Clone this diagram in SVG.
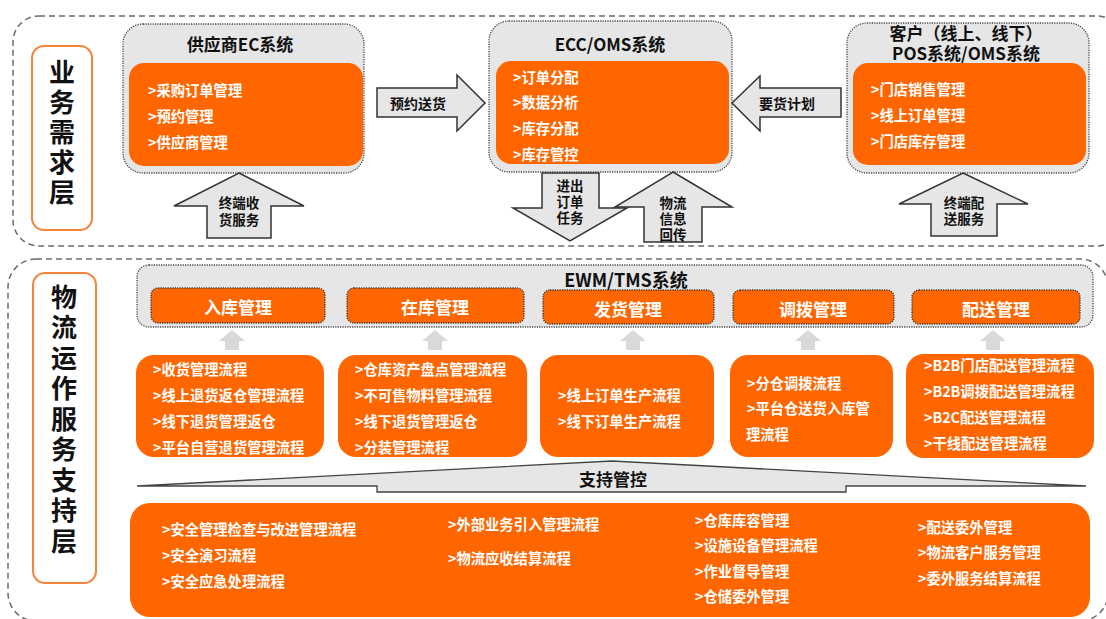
<svg xmlns="http://www.w3.org/2000/svg" width="1106" height="619" viewBox="0 0 1106 619">
<style>
text{font-family:"Noto Sans CJK SC","Noto Sans",sans-serif;font-weight:bold;dominant-baseline:central}
.zone{fill:none;stroke:#6b6b6b;stroke-width:1.5;stroke-dasharray:6 4}
.layer{fill:#fff;stroke:#f6843a;stroke-width:2}
.layer-t{font-size:26px;fill:#111;text-anchor:middle;writing-mode:vertical-rl;dominant-baseline:auto}
.sys{fill:#e6e6e6;stroke:#444;stroke-width:1.3;stroke-dasharray:1.2 1.2}
.org{fill:#ff6600}
.mgmt{fill:#ff6600;stroke:#333;stroke-width:1.3;stroke-dasharray:1.2 1.2}
.title{font-size:17px;fill:#111;text-anchor:middle}
.item{font-size:14.3px;fill:#fff}
.mg-t{font-size:17px;fill:#fff;text-anchor:middle}
.blk{fill:#e6e6e6;stroke:#333;stroke-width:1.5;stroke-linejoin:miter}
.blk-t{font-size:13.5px;fill:#111;text-anchor:middle}
.up{fill:#d9d9d9}
</style>

<!-- zones -->
<rect class="zone" x="13" y="16" width="1110" height="230" rx="26"/>
<rect class="zone" x="8" y="259" width="1100" height="362" rx="28"/>

<!-- layer labels -->
<g id="layer-business">
<rect class="layer" x="32" y="46" width="60" height="184" rx="12"/>
<text class="layer-t" x="62" y="134" letter-spacing="4">业务需求层</text>
</g>
<g id="layer-logistics">
<rect class="layer" x="33" y="273" width="63" height="310" rx="12"/>
<text class="layer-t" x="64" y="421" letter-spacing="4.5">物流运作服务支持层</text>
</g>

<!-- business systems -->
<g id="supplier-ec">
<rect class="sys" x="123" y="24" width="241" height="149" rx="20"/>
<text class="title" x="240" y="43">供应商EC系统</text>
<rect class="org" x="129" y="63" width="234" height="103" rx="15"/>
<text class="item" x="148" y="89">&gt;采购订单管理</text>
<text class="item" x="148" y="115">&gt;预约管理</text>
<text class="item" x="148" y="141">&gt;供应商管理</text>
</g>
<g id="ecc-oms">
<rect class="sys" x="489" y="21" width="243" height="151" rx="20"/>
<text class="title" x="610" y="43">ECC/OMS系统</text>
<rect class="org" x="496" y="61" width="233" height="103" rx="15"/>
<text class="item" x="513" y="76">&gt;订单分配</text>
<text class="item" x="513" y="101">&gt;数据分析</text>
<text class="item" x="513" y="127">&gt;库存分配</text>
<text class="item" x="513" y="153">&gt;库存管控</text>
</g>
<g id="customer-pos">
<rect class="sys" x="847" y="23" width="242" height="150" rx="20"/>
<text class="title" x="966" y="32">客户（线上、线下）<tspan x="966" dy="20">POS系统/OMS系统</tspan></text>
<rect class="org" x="853" y="63" width="233" height="102" rx="15"/>
<text class="item" x="871" y="88">&gt;门店销售管理</text>
<text class="item" x="871" y="114">&gt;线上订单管理</text>
<text class="item" x="871" y="140">&gt;门店库存管理</text>
</g>

<!-- connectors (block arrows) -->
<g id="connectors">
<g id="arrow-booking">
<polygon class="blk" points="377,88 457,88 457,75 485,103 457,131 457,117 377,117"/>
<text class="blk-t" x="418" y="103" style="font-size:14px">预约送货</text>
</g>
<g id="arrow-demand">
<polygon class="blk" points="841,88 760,88 760,76 732,103 760,131 760,117 841,117"/>
<text class="blk-t" x="787" y="103" style="font-size:14px">要货计划</text>
</g>
<g id="arrow-receive">
<polygon class="blk" points="239,173 304,206 271,206 271,238 207,238 207,206 174,206"/>
<text class="blk-t" x="239" y="202">终端收<tspan x="239" dy="17">货服务</tspan></text>
</g>
<g id="arrow-deliver">
<polygon class="blk" points="963,173 1028,204 997,204 997,236 931,236 931,204 899,204"/>
<text class="blk-t" x="964" y="202">终端配<tspan x="964" dy="16">送服务</tspan></text>
</g>
<g id="arrow-orders">
<polygon class="blk" points="542,173 599,173 599,208 627,208 570,241 513,208 542,208"/>
<text class="blk-t" x="570" y="185">进出<tspan x="570" dy="16">订单</tspan><tspan x="570" dy="16">任务</tspan></text>
</g>
<g id="arrow-feedback">
<polygon class="blk" points="673,172 732,207 702,207 702,242 644,242 644,207 615,207"/>
<text class="blk-t" x="673" y="202">物流<tspan x="673" dy="16">信息</tspan><tspan x="673" dy="16">回传</tspan></text>
</g>
<g id="up-arrows">
<polygon class="up" points="232,330 245,341 239,341 239,350 225,350 225,341 219,341"/>
<polygon class="up" points="435,330 448,341 442,341 442,350 428,350 428,341 422,341"/>
<polygon class="up" points="633,330 646,341 640,341 640,350 626,350 626,341 620,341"/>
<polygon class="up" points="808,330 821,341 815,341 815,350 801,350 801,341 795,341"/>
<polygon class="up" points="993,330 1006,341 1000,341 1000,350 986,350 986,341 980,341"/>
</g>
<g id="arrow-support">
<polygon class="blk" style="stroke:#444;stroke-width:1.3" points="137,486 612,461 1086,486 846,486 846,492 377,492 377,486"/>
<text class="title" x="613" y="478">支持管控</text>
</g>
</g>

<!-- EWM/TMS -->
<g id="ewm-tms">
<rect class="sys" x="137" y="265" width="956" height="62" rx="12"/>
<text class="title" x="626" y="279" style="font-size:18px">EWM/TMS系统</text>
</g>
<g id="inbound">
<rect class="mgmt" x="151" y="288" width="174" height="35" rx="7"/>
<text class="mg-t" x="238" y="306">入库管理</text>
</g>
<g id="instock">
<rect class="mgmt" x="347" y="288" width="177" height="35" rx="7"/>
<text class="mg-t" x="435" y="306">在库管理</text>
</g>
<g id="outbound">
<rect class="mgmt" x="543" y="290" width="171" height="34" rx="7"/>
<text class="mg-t" x="628" y="308">发货管理</text>
</g>
<g id="transfer">
<rect class="mgmt" x="733" y="290" width="161" height="34" rx="7"/>
<text class="mg-t" x="813" y="308">调拨管理</text>
</g>
<g id="distribution">
<rect class="mgmt" x="912" y="290" width="168" height="34" rx="7"/>
<text class="mg-t" x="996" y="308">配送管理</text>
</g>

<!-- process boxes -->
<g id="proc-inbound">
<rect class="org" x="136" y="355" width="188" height="102" rx="18"/>
<text class="item" x="153" y="368">&gt;收货管理流程</text>
<text class="item" x="153" y="394">&gt;线上退货返仓管理流程</text>
<text class="item" x="153" y="420">&gt;线下退货管理返仓</text>
<text class="item" x="153" y="446">&gt;平台自营退货管理流程</text>
</g>
<g id="proc-instock">
<rect class="org" x="338" y="355" width="189" height="102" rx="18"/>
<text class="item" x="355" y="368">&gt;仓库资产盘点管理流程</text>
<text class="item" x="355" y="394">&gt;不可售物料管理流程</text>
<text class="item" x="355" y="420">&gt;线下退货管理返仓</text>
<text class="item" x="355" y="446">&gt;分装管理流程</text>
</g>
<g id="proc-outbound">
<rect class="org" x="540" y="355" width="174" height="102" rx="18"/>
<text class="item" x="558" y="394">&gt;线上订单生产流程</text>
<text class="item" x="558" y="420">&gt;线下订单生产流程</text>
</g>
<g id="proc-transfer">
<rect class="org" x="730" y="355" width="163" height="102" rx="18"/>
<text class="item" x="747" y="382">&gt;分仓调拨流程</text>
<text class="item" x="747" y="407">&gt;平台仓送货入库管</text>
<text class="item" x="746" y="433">理流程</text>
</g>
<g id="proc-distribution">
<rect class="org" x="906" y="354" width="188" height="104" rx="18"/>
<text class="item" x="924" y="364">&gt;B2B门店配送管理流程</text>
<text class="item" x="924" y="390">&gt;B2B调拨配送管理流程</text>
<text class="item" x="924" y="416">&gt;B2C配送管理流程</text>
<text class="item" x="924" y="442">&gt;干线配送管理流程</text>
</g>

<!-- support -->
<g id="support">
<rect class="org" x="130" y="503" width="960" height="114" rx="20"/>
<text class="item" x="162" y="528">&gt;安全管理检查与改进管理流程</text>
<text class="item" x="162" y="554">&gt;安全演习流程</text>
<text class="item" x="162" y="580">&gt;安全应急处理流程</text>
<text class="item" x="448" y="523">&gt;外部业务引入管理流程</text>
<text class="item" x="448" y="557">&gt;物流应收结算流程</text>
<text class="item" x="695" y="519">&gt;仓库库容管理</text>
<text class="item" x="695" y="544">&gt;设施设备管理流程</text>
<text class="item" x="695" y="570">&gt;作业督导管理</text>
<text class="item" x="695" y="595">&gt;仓储委外管理</text>
<text class="item" x="918" y="526">&gt;配送委外管理</text>
<text class="item" x="918" y="551">&gt;物流客户服务管理</text>
<text class="item" x="918" y="577">&gt;委外服务结算流程</text>
</g>
</svg>
